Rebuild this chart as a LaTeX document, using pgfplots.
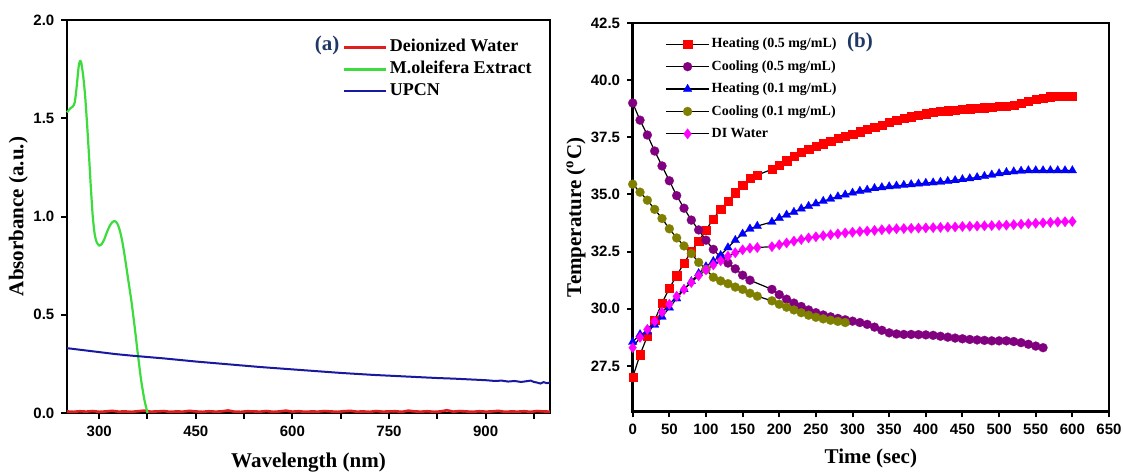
\documentclass[border=0pt]{standalone}
\usepackage{fontspec}
\setmainfont{Liberation Serif}
\newfontfamily\arialfont{Liberation Sans}
\usepackage{pgfplots}
\pgfplotsset{compat=1.18}
\definecolor{uvred}{RGB}{225,30,30}
\definecolor{uvgreen}{RGB}{60,220,60}
\definecolor{uvblue}{RGB}{25,25,160}
\definecolor{navy}{RGB}{31,56,100}
\definecolor{cpurple}{RGB}{128,0,128}
\definecolor{colive}{RGB}{128,128,0}
\definecolor{cmag}{RGB}{255,0,255}
\pgfplotsset{
  common/.style={
    scale only axis, clip=false,
    axis line style={line width=1.3pt},
    tick align=outside, xtick pos=left, ytick pos=left,
    major tick length=2.8pt,
    every tick/.style={black, line width=1pt},
    /pgf/number format/assume math mode=true,
    tick label style={font=\arialfont\bfseries\fontsize{7.5}{8}\selectfont},
    label style={font=\bfseries\fontsize{10.5}{12}\selectfont},
  }
}
\begin{document}
\begin{tikzpicture}
\path[use as bounding box] (0,0) rectangle (561.5pt,236.5pt);
% ---------------- panel (a)
\begin{axis}[common,
  at={(33.5pt,30pt)}, anchor=south west,
  width=241.5pt, height=196.5pt,
  xmin=250, xmax=1000, ymin=0, ymax=2,
  xtick={300,375,450,525,600,675,750,825,900,975},
  xticklabels={300,,450,,600,,750,,900,},
  ytick={0,0.5,1,1.5,2},
  yticklabel style={/pgf/number format/.cd, fixed, fixed zerofill, precision=1},
  xlabel={Wavelength (nm)}, ylabel={Absorbance (a.u.)},
  xlabel style={at={(axis description cs:0.5,-0.127)}, anchor=center},
  ylabel style={at={(axis description cs:-0.101,0.5)}, anchor=center},
  legend style={draw=none, fill=none, at={(rel axis cs:0.571,0.958)}, anchor=north west,
    inner sep=0pt, row sep=0.5pt,
    nodes={inner sep=1pt, text height=6.5pt, text depth=2pt},
    font=\bfseries\fontsize{9}{10}\selectfont},
  legend cell align=left,
  legend image code/.code={\draw[#1] (0pt,0pt) -- (21pt,0pt);},
]
\addplot[uvred, line width=1.3pt] coordinates {
(250,0.008)(260,0.006)(270,0.009)(280,0.007)(290,0.010)(300,0.006)(310,0.008)(320,0.011)(330,0.007)(340,0.008)
(350,0.006)(360,0.009)(370,0.012)(380,0.007)(390,0.008)(400,0.010)(410,0.006)(420,0.008)(430,0.007)(440,0.011)
(450,0.008)(460,0.006)(470,0.009)(480,0.007)(490,0.008)(500,0.013)(510,0.007)(520,0.006)(530,0.009)(540,0.008)
(550,0.007)(560,0.010)(570,0.006)(580,0.008)(590,0.012)(600,0.007)(610,0.009)(620,0.006)(630,0.008)(640,0.007)
(650,0.010)(660,0.008)(670,0.006)(680,0.009)(690,0.011)(700,0.007)(710,0.008)(720,0.006)(730,0.010)(740,0.007)
(750,0.008)(760,0.009)(770,0.006)(780,0.012)(790,0.008)(800,0.007)(810,0.009)(820,0.006)(830,0.008)(840,0.014)
(850,0.007)(860,0.010)(870,0.008)(880,0.006)(890,0.009)(900,0.007)(910,0.008)(920,0.011)(930,0.006)(940,0.008)
(950,0.007)(960,0.009)(970,0.006)(980,0.010)(990,0.008)(1000,0.007)};
\addlegendentry{\textbf{Deionized Water}}
\addplot[uvgreen, line width=1.1pt, smooth, tension=0.4] coordinates {
(250,1.53)(255,1.55)(259,1.56)(262,1.58)(265,1.66)(268,1.76)(270,1.79)(272,1.785)(275,1.72)(278,1.62)
(281,1.48)(284,1.32)(287,1.15)(290,1.00)(293,0.91)(296,0.87)(300,0.852)(304,0.86)(308,0.885)(312,0.92)
(316,0.95)(320,0.97)(324,0.977)(328,0.965)(332,0.93)(336,0.87)(340,0.79)(345,0.68)(350,0.57)(355,0.44)
(360,0.30)(365,0.17)(370,0.07)(375,0.0)};
\addlegendentry{\textbf{M.oleifera Extract}}
\addplot[uvblue, line width=1pt] coordinates {
(250,0.330)(275,0.320)(300,0.310)(325,0.300)(350,0.292)(375,0.285)(400,0.278)(425,0.270)(450,0.262)(475,0.255)
(500,0.248)(525,0.241)(550,0.234)(575,0.228)(600,0.222)(625,0.216)(650,0.210)(675,0.204)(700,0.199)(725,0.194)
(750,0.190)(775,0.186)(800,0.182)(825,0.178)(850,0.175)(875,0.171)(900,0.167)(915,0.163)(925,0.165)(935,0.160)
(945,0.163)(955,0.158)(962,0.161)(970,0.165)(975,0.158)(980,0.155)(985,0.150)(990,0.157)(995,0.152)(1000,0.155)};
\addlegendentry{\textbf{UPCN}}
\end{axis}
% ---------------- panel (b)
\begin{axis}[common,
  at={(316.35pt,30.65pt)}, anchor=south west,
  width=238.15pt, height=194.35pt,
  xmin=0, xmax=650, ymin=25.5, ymax=42.5,
  xtick={0,50,...,650},
  ytick={27.5,30,32.5,35,37.5,40,42.5},
  yticklabel style={/pgf/number format/.cd, fixed, fixed zerofill, precision=1},
  xlabel={Time (sec)}, ylabel={Temperature (\textsuperscript{o}C)},
  xlabel style={at={(axis description cs:0.5,-0.119)}, anchor=center},
  ylabel style={at={(axis description cs:-0.119,0.5)}, anchor=center},
  legend style={draw=none, fill=none, at={(rel axis cs:0.068,0.969)}, anchor=north west,
    inner sep=0pt, row sep=2.4pt,
    nodes={inner sep=1pt, text height=5.2pt, text depth=1.6pt},
    font=\bfseries\fontsize{7}{8}\selectfont},
  legend cell align=left,
  legend image code/.code={\draw[mark repeat=2,mark phase=2,#1] plot coordinates {(0pt,0pt) (10.75pt,0pt) (21.5pt,0pt)};},
  every axis plot/.append style={black, line width=0.6pt},
]
\addplot[mark=square*, mark size=2.05pt, mark options={fill=red, draw=red, line width=0.1pt}] coordinates {
(0,27.0)(10,28.0)(20,28.8)(30,29.5)(40,30.25)(50,30.9)(60,31.45)(70,32.0)(80,32.5)(90,32.97)
(100,33.44)(110,33.94)(120,34.35)(130,34.72)(140,35.08)(150,35.42)(160,35.7)(170,35.85)
(190,36.1)(200,36.3)(210,36.48)(220,36.68)(230,36.85)(240,37.0)(250,37.12)(260,37.23)(270,37.34)(280,37.45)
(290,37.55)(300,37.65)(310,37.75)(320,37.85)(330,37.95)(340,38.05)(350,38.15)(360,38.25)(370,38.33)(380,38.41)
(390,38.48)(400,38.54)(410,38.59)(420,38.63)(430,38.67)(440,38.7)(450,38.73)(460,38.76)(470,38.78)(480,38.8)
(490,38.82)(500,38.85)(510,38.88)(520,38.92)(530,38.99)(540,39.07)(550,39.16)(560,39.23)(570,39.28)(580,39.3)
(590,39.3)(600,39.3)};
\addlegendentry{Heating (0.5 mg/mL)}
\addplot[mark=*, mark size=2.25pt, mark options={fill=cpurple, draw=cpurple, line width=0.1pt}] coordinates {
(0,39.0)(10,38.25)(20,37.6)(30,36.9)(40,36.25)(50,35.6)(60,34.95)(70,34.4)(80,33.88)(90,33.45)
(100,33.0)(110,32.6)(120,32.25)(130,32.0)(140,31.75)(150,31.47)(160,31.25)
(190,30.85)(200,30.62)(210,30.42)(220,30.25)(230,30.1)(240,29.95)(250,29.83)(260,29.73)(270,29.65)(280,29.58)
(290,29.52)(300,29.46)(310,29.4)(320,29.32)(330,29.2)(340,29.06)(350,28.95)(360,28.9)(370,28.88)(380,28.88)
(390,28.87)(400,28.86)(410,28.84)(420,28.8)(430,28.76)(440,28.72)(450,28.69)(460,28.66)(470,28.64)(480,28.62)
(490,28.6)(500,28.6)(510,28.6)(520,28.57)(530,28.52)(540,28.45)(550,28.37)(560,28.3)};
\addlegendentry{Cooling (0.5 mg/mL)}
\addplot[mark=triangle*, mark size=2.5pt, mark options={fill=blue, draw=blue, line width=0.1pt}] coordinates {
(0,28.55)(10,28.88)(20,29.0)(30,29.3)(40,29.65)(50,30.05)(60,30.45)(70,30.85)(80,31.2)(90,31.55)
(100,31.85)(110,32.08)(120,32.34)(130,32.68)(140,33.0)(150,33.28)(160,33.5)(170,33.62)
(190,33.8)(200,33.97)(210,34.11)(220,34.23)(230,34.38)(240,34.49)(250,34.6)(260,34.71)(270,34.81)(280,34.91)
(290,34.99)(300,35.07)(310,35.15)(320,35.2)(330,35.27)(340,35.31)(350,35.35)(360,35.38)(370,35.41)(380,35.44)
(390,35.47)(400,35.5)(410,35.52)(420,35.55)(430,35.58)(440,35.62)(450,35.66)(460,35.7)(470,35.75)(480,35.8)
(490,35.86)(500,35.92)(510,35.97)(520,36.0)(530,36.03)(540,36.05)(550,36.05)(560,36.05)(570,36.05)(580,36.05)
(590,36.05)(600,36.05)};
\addlegendentry{Heating (0.1 mg/mL)}
\addplot[mark=*, mark size=2.25pt, mark options={fill=colive, draw=colive, line width=0.1pt}] coordinates {
(0,35.45)(10,35.1)(20,34.75)(30,34.35)(40,33.95)(50,33.5)(60,33.1)(70,32.75)(80,32.42)(90,32.03)
(100,31.72)(110,31.38)(120,31.22)(130,31.1)(140,30.95)(150,30.85)(160,30.68)(170,30.55)
(190,30.35)(200,30.2)(210,30.07)(220,29.95)(230,29.83)(240,29.72)(250,29.63)(260,29.56)(270,29.5)(280,29.45)
(290,29.4)};
\addlegendentry{Cooling (0.1 mg/mL)}
\addplot[mark=diamond*, mark size=2.6pt, mark options={fill=cmag, draw=cmag, line width=0.1pt}] coordinates {
(0,28.3)(10,28.75)(20,29.1)(30,29.45)(40,29.85)(50,30.2)(60,30.55)(70,30.85)(80,31.15)(90,31.45)
(100,31.7)(110,31.92)(120,32.1)(130,32.3)(140,32.45)(150,32.58)(160,32.65)(170,32.68)
(190,32.72)(200,32.8)(210,32.88)(220,32.96)(230,33.03)(240,33.1)(250,33.15)(260,33.2)(270,33.24)(280,33.28)
(290,33.32)(300,33.35)(310,33.38)(320,33.4)(330,33.43)(340,33.46)(350,33.48)(360,33.5)(370,33.51)(380,33.52)
(390,33.53)(400,33.54)(410,33.55)(420,33.56)(430,33.57)(440,33.58)(450,33.6)(460,33.61)(470,33.62)(480,33.63)
(490,33.64)(500,33.65)(510,33.66)(520,33.68)(530,33.7)(540,33.72)(550,33.74)(560,33.76)(570,33.78)(580,33.8)
(590,33.81)(600,33.82)};
\addlegendentry{DI Water}
\end{axis}
\node[font=\bfseries\fontsize{10.5}{12}\selectfont, text=navy] at (163.5pt,214pt) {(a)};
\node[font=\bfseries\fontsize{10.5}{12}\selectfont, text=navy] at (430pt,215.5pt) {(b)};
\end{tikzpicture}
\end{document}
